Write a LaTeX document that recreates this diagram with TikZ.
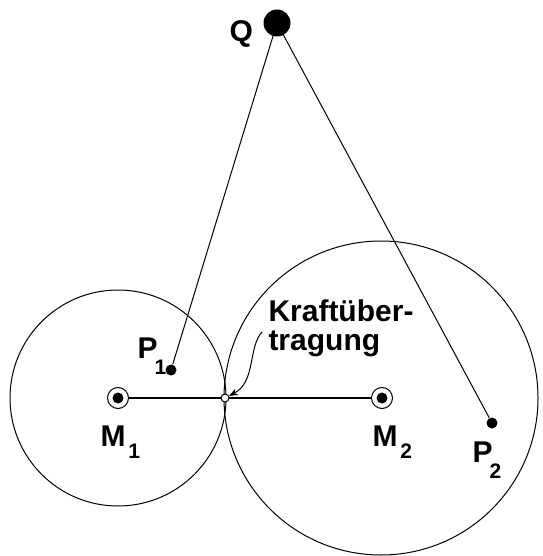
\documentclass[tikz,border=0pt]{standalone}
\usepackage{fontspec}
\setmainfont{Liberation Sans}
\usetikzlibrary{positioning,arrows.meta}

\newcommand{\lowidx}[3]{\kern#1\raisebox{#2}{\fontsize{21}{21}\selectfont #3}}

\begin{document}
\begin{tikzpicture}[
          x=1pt, y=-1pt,
          >={Stealth[length=9pt,width=7pt]}, line width=1pt,
          dot/.style={circle, fill, inner sep=0pt, minimum size=11pt},
          hub/.style={circle, draw, fill=white, inner sep=0pt,
                      minimum size=21pt},
          lbl/.style={font=\fontsize{30}{29}\selectfont\bfseries,
                      inner sep=0pt}
        ]
        \useasboundingbox (0,0) rectangle (542,556);

        % the two wheels
        \draw (118,398) circle (108pt);
        \draw (381,398) circle (157pt);

        \node[hub] (M1) at (118,398) {};
        \node[hub] (M2) at (382,398) {};
        \draw[line width=1.3pt] (M1) -- (M2);
        \fill (M1.center) circle (5.5pt);
        \fill (M2.center) circle (5.5pt);
        \node[circle, draw, fill=white, inner sep=0pt, minimum size=8pt]
              (contact) at (225,398) {};

        % load and the two points
        \node[dot, minimum size=27pt] (Q) at (277,23) {};
        \node[dot] (P1) at (171,370) {};
        \node[dot] (P2) at (492,423) {};
        \draw (Q.center) -- (P1);
        \draw (Q.center) -- (P2);

        % labels
        \node[lbl, anchor=base west] (labQ)  at (229,42)  {Q};
        \node[lbl, anchor=base west] (labP1) at (137,358)
              {P\lowidx{-3pt}{-16pt}{1}};
        \node[lbl, anchor=base west] (labP2) at (472,462)
              {P\lowidx{-3pt}{-16pt}{2}};
        \node[lbl, anchor=base west] (labM1) at (100,446)
              {M\lowidx{3pt}{-12pt}{1}};
        \node[lbl, anchor=base west] (labM2) at (372,446)
              {M\lowidx{3pt}{-12pt}{2}};
        \node[lbl, anchor=north west, align=left] (labK) at (268,299)
              {Kraftüber-\\tragung};

        % arrow to the contact point
        \coordinate (arrstart) at (262,332);
        \draw[->] (arrstart) .. controls (248,347) and (256,382) .. (contact);
      \end{tikzpicture}
\end{document}
